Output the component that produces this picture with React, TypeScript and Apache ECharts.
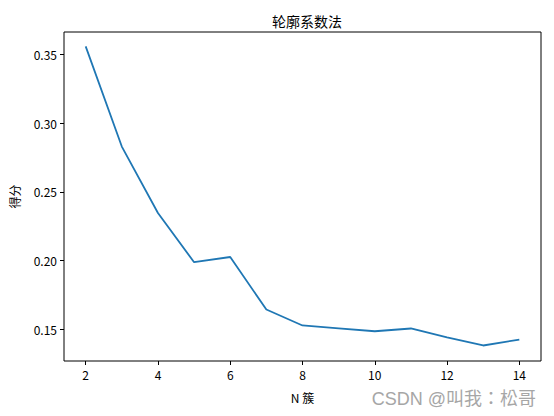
import React, { useEffect, useRef } from "react";
import * as echarts from "echarts";

const nClusters = [2, 3, 4, 5, 6, 7, 8, 9, 10, 11, 12, 13, 14];
const scores = [0.356, 0.283, 0.2346, 0.1987, 0.2025, 0.1642, 0.1526, 0.1505, 0.1484, 0.1504, 0.144, 0.138, 0.1423];
const xTicks = [2, 4, 6, 8, 10, 12, 14];
const yTicks = [0.15, 0.2, 0.25, 0.3, 0.35];
const titleText = "轮廓系数法";
const xName = "N 簇";
const yName = "得分";
const watermark = "CSDN @叫我：松哥";

const FONT = "'Noto Sans CJK SC', 'DejaVu Sans', sans-serif";
const WM_FONT = "'Liberation Sans', 'Noto Sans CJK TC', sans-serif";

export default function App() {
  const ref = useRef<HTMLDivElement>(null);
  useEffect(() => {
    document.body.style.margin = "0";
    const chart = echarts.init(ref.current!, null, { renderer: "svg" });
    chart.setOption({
      animation: false,
      backgroundColor: "#ffffff",
      title: {
        text: titleText,
        left: 302,
        top: 9,
        textAlign: "center",
        textStyle: { fontFamily: FONT, fontSize: 14, fontWeight: "normal", color: "#000" },
      },
      grid: {
        left: 64,
        right: 13,
        top: 32,
        bottom: 55,
        show: true,
        borderColor: "#000",
        borderWidth: 1,
        backgroundColor: "transparent",
      },
      xAxis: {
        type: "value",
        min: 1.4,
        max: 14.6,
        name: xName,
        nameLocation: "middle",
        nameGap: 30,
        nameTextStyle: { fontFamily: FONT, fontSize: 12, color: "#000" },
        splitLine: { show: false },
        axisLine: { show: false },
        axisTick: { show: true, length: 4, inside: false, lineStyle: { color: "#000" }, customValues: xTicks },
        axisLabel: {
          fontFamily: FONT,
          fontSize: 12,
          color: "#000",
          margin: 7,
          customValues: xTicks,
          formatter: (v: number) => String(v),
        },
      },
      yAxis: {
        type: "value",
        min: 0.1267,
        max: 0.3665,
        name: yName,
        nameLocation: "middle",
        nameGap: 44,
        nameTextStyle: { fontFamily: FONT, fontSize: 12, color: "#000" },
        splitLine: { show: false },
        axisLine: { show: false },
        axisTick: { show: true, length: 4, inside: false, lineStyle: { color: "#000" }, customValues: yTicks },
        axisLabel: {
          fontFamily: FONT,
          fontSize: 12,
          color: "#000",
          margin: 7,
          customValues: yTicks,
          formatter: (v: number) => v.toFixed(2),
        },
      },
      series: [
        {
          type: "line",
          data: nClusters.map((n, i) => [n, scores[i]]),
          showSymbol: false,
          symbol: "none",
          lineStyle: { color: "#1f77b4", width: 1.8 },
        },
      ],
      graphic: [
        {
          type: "text",
          x: 536,
          y: 399,
          style: {
            text: watermark,
            fontFamily: WM_FONT,
            fontSize: 18,
            fill: "#a6a6a6",
            textAlign: "right",
            textVerticalAlign: "middle",
          },
        },
      ],
    });
    return () => chart.dispose();
  }, []);
  return <div ref={ref} style={{ width: 554, height: 416 }} />;
}
